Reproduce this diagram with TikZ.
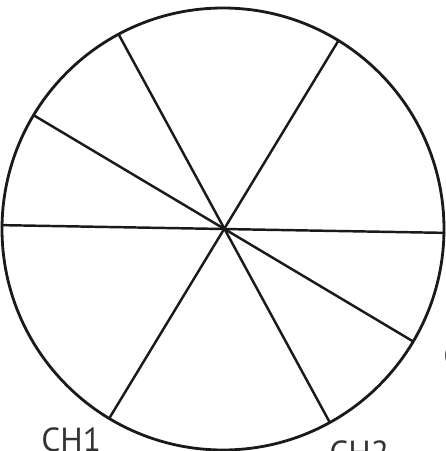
\documentclass[tikz,border=0pt]{standalone}
\usepackage{fontspec}
\setmainfont{PT Sans}
\usetikzlibrary{positioning,calc}
\definecolor{ink}{HTML}{1A1A1A}
\definecolor{txt}{HTML}{333333}
\tikzset{
  rim/.style={draw=ink, line width=1.6pt},
  spoke/.style={draw=ink, line width=1.4pt},
  chlab/.style={text=txt, font=\fontsize{19}{22}\selectfont, inner sep=0pt, anchor=base west},
}

\begin{document}
\begin{tikzpicture}[x=0.02cm,y=0.02cm]
\useasboundingbox (0,0) rectangle (446,451);
\clip (0,0) rectangle (446,451);

% ===================== wheel: rim and four diameters =====================
\coordinate (c) at (223,222);
\draw[rim] (c) circle (221);
\foreach \n/\a in {a1/118.2, a2/58.5, a3/149.0, a4/179.0,
                   b1/-61.1, b2/239.0, b3/-30.6, b4/-1.0}{
  \coordinate (\n) at ($(c)+(\a:221)$);}
\foreach \i in {1,...,4}{
  \draw[spoke] (a\i) -- (b\i);}

% ===================== channel labels =====================
\node[chlab] (ch1) at (41,-1) {CH1};
\node[chlab] (ch2) at (329,-13) {CH2};
\node[chlab] (ch3) at (443,84) {CH3};

\end{tikzpicture}
\end{document}
